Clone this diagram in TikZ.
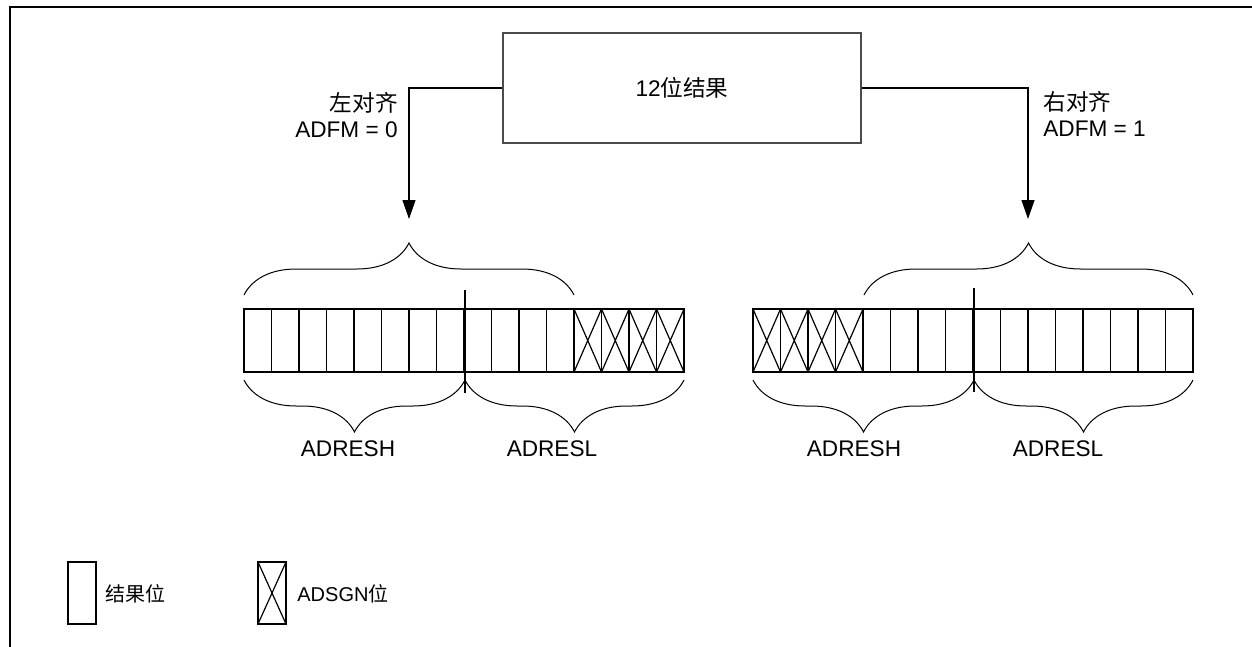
\documentclass[tikz,border=0pt]{standalone}
\usepackage{fontspec}
\setmainfont{Liberation Sans}
\newfontfamily\cjk{Noto Sans CJK SC}
\usetikzlibrary{arrows.meta, decorations.pathreplacing}

\tikzset{
  cell/.style={draw, line width=0.6pt},
  brc/.style={decorate, decoration={brace, amplitude=26pt}, line width=0.5pt},
  lbl/.style={font=\fontsize{11.3}{13}\selectfont, inner sep=0pt},
  leg/.style={font=\fontsize{10}{12}\selectfont, inner sep=0pt, anchor=west},
  conn/.style={line width=0.6pt, -{Triangle[length=9.5pt, width=6.5pt]}},
}

\begin{document}
\begin{tikzpicture}[x=0.5pt, y=-0.5pt]
  \useasboundingbox (0,0) rectangle (1252,647);
  \draw[line width=1pt] (10,647) -- (10,7) -- (1252,7);

  % source box and the two alignments
  \node[draw=black!70, line width=0.6pt, minimum width=179pt, minimum height=55pt, lbl] (res) at (682,88) {12\cjk{位结果}};
  \coordinate (la) at (409,219);
  \coordinate (ra) at (1028,219);
  \draw[conn] (res.west) -| (la);
  \draw[conn] (res.east) -| (ra);
  \node[lbl, align=right, anchor=east] (lalign) at (398,115) {\cjk{左对齐}\\ADFM = 0};
  \node[lbl, align=left, anchor=west] (ralign) at (1043,114) {\cjk{右对齐}\\ADFM = 1};

  % left justified
  \foreach \i in {0,...,15}
    \draw[cell] ({244+27.5*\i},309) rectangle ++(27.5,63);
  \foreach \i in {12,...,15}
    \draw[cell] ({244+27.5*\i},309) -- ++(27.5,63) ++(0,-63) -- ++(-27.5,63);
  \draw[cell] (465,290) -- (465,393);
  \draw[brc] (244,295) -- (574,295);
  \draw[brc] (465,380) -- (244,380);
  \draw[brc] (684,380) -- (465,380);
  \node[lbl] (lh) at (348,449) {ADRESH};
  \node[lbl] (ll) at (552,449) {ADRESL};

  % right justified
  \foreach \i in {0,...,15}
    \draw[cell] ({753+27.5*\i},309) rectangle ++(27.5,63);
  \foreach \i in {0,...,3}
    \draw[cell] ({753+27.5*\i},309) -- ++(27.5,63) ++(0,-63) -- ++(-27.5,63);
  \draw[cell] (974,288) -- (974,392);
  \draw[brc] (864,295) -- (1193,295);
  \draw[brc] (974,380) -- (753,380);
  \draw[brc] (1193,380) -- (974,380);
  \node[lbl] (rh) at (854,449) {ADRESH};
  \node[lbl] (rl) at (1058,449) {ADRESL};

  % legend
  \draw[cell] (68,562) rectangle (96,624);
  \node[leg] (legres) at (105,594) {\cjk{结果位}};
  \draw[cell] (258,562) rectangle (286,624);
  \draw[cell] (258,562) -- (286,624) (286,562) -- (258,624);
  \node[leg] (legsgn) at (297,594) {ADSGN\cjk{位}};
\end{tikzpicture}
\end{document}
